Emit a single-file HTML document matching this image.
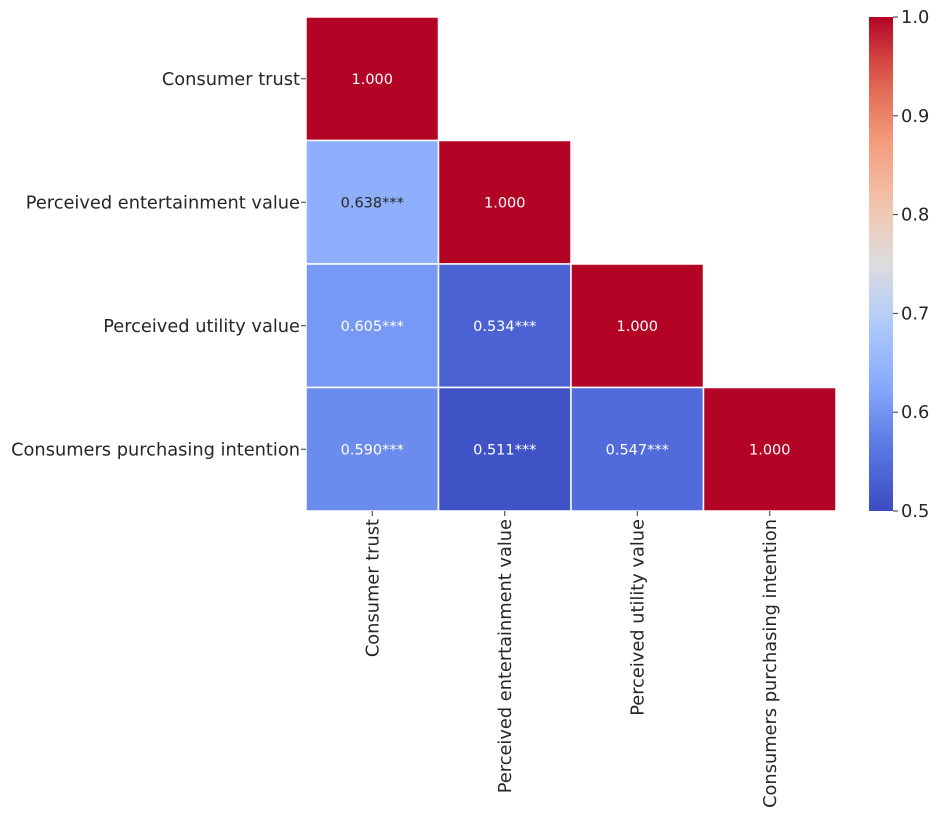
<!DOCTYPE html>
<html><head><meta charset="utf-8"><style>
body{margin:0;background:#fff;}
svg text{font-family:"DejaVu Sans","Liberation Sans",sans-serif;}
</style></head><body>
<svg id="chart" width="938" height="817" xmlns="http://www.w3.org/2000/svg">
<defs><linearGradient id="cbg" x1="0" y1="1" x2="0" y2="0"></linearGradient></defs>
<g id="cells"></g><g id="labels"></g><g id="cbar"></g>
</svg>
<script>
const categories=["Consumer trust","Perceived entertainment value","Perceived utility value","Consumers purchasing intention"];
const values=[[1.000],[0.638,1.000],[0.605,0.534,1.000],[0.590,0.511,0.547,1.000]];
const cellLabels=[["1.000"],["0.638***","1.000"],["0.605***","0.534***","1.000"],["0.590***","0.511***","0.547***","1.000"]];
const cbTicks=[0.5,0.6,0.7,0.8,0.9,1.0];
const vmin=0.5,vmax=1.0;
const X0=306,X1=836,Y0=17,Y1=511;
const cw=(X1-X0)/categories.length,ch=(Y1-Y0)/categories.length;
const xPos=i=>X0+i*cw, yPos=i=>Y0+i*ch;
const stops=[[0,[59,76,192]],[0.125,[88,118,226]],[0.25,[134,168,252]],[0.375,[174,202,253]],[0.5,[221,221,221]],[0.625,[244,195,171]],[0.75,[244,154,123]],[0.875,[222,96,77]],[1,[180,4,38]]];
function cmap(v){let t=Math.max(0,Math.min(1,(v-vmin)/(vmax-vmin)));
for(let i=0;i<stops.length-1;i++){const[a,ca]=stops[i],[b,cb]=stops[i+1];if(t<=b){const f=(t-a)/(b-a);return 'rgb('+ca.map((c,k)=>Math.round(c+(cb[k]-c)*f)).join(',')+')';}}return 'rgb(180,4,38)';}
const NS="http://www.w3.org/2000/svg";
function mk(tag,attrs,parent,txt){const e=document.createElementNS(NS,tag);for(const k in attrs)e.setAttribute(k,attrs[k]);if(txt!==undefined)e.textContent=txt;parent.appendChild(e);return e;}
const cells=document.getElementById('cells'),labels=document.getElementById('labels'),cbar=document.getElementById('cbar');
values.forEach((row,i)=>row.forEach((v,j)=>{
const r=mk('rect',{x:xPos(j),y:yPos(i),width:cw,height:ch,fill:cmap(v),stroke:'#fff','stroke-width':1.5},cells);


const t=mk('text',{x:xPos(j)+cw/2,y:yPos(i)+ch/2+5,'text-anchor':'middle','font-size':14.5,fill:(v>0.62&&v<0.85)?'#262626':'#fff'},cells,cellLabels[i][j]);


}));
categories.forEach((c,i)=>{
const cy=yPos(i)+ch/2;
mk('line',{x1:X0-5,x2:X0,y1:cy,y2:cy,stroke:'#333'},labels);
const t=mk('text',{x:X0-6,y:cy+6,'text-anchor':'end','font-size':17.8,fill:'#262626'},labels,c);


const cx=xPos(i)+cw/2;
mk('line',{x1:cx,x2:cx,y1:Y1,y2:Y1+5,stroke:'#333'},labels);
const t2=mk('text',{x:0,y:0,'text-anchor':'end','font-size':17.8,fill:'#262626',transform:`translate(${cx+6},${Y1+8}) rotate(-90)`},labels,c);


});
const CBX=869,CBW=24;
const g=document.getElementById('cbg');
for(let k=0;k<=20;k++){mk('stop',{offset:k/20,'stop-color':cmap(vmin+(vmax-vmin)*k/20)},g);}
const cb=mk('rect',{x:CBX,y:Y0,width:CBW,height:Y1-Y0,fill:'url(#cbg)'},cbar);


const cyScale=v=>Y1-(v-vmin)/(vmax-vmin)*(Y1-Y0);
cbTicks.forEach(v=>{const y=cyScale(v);
mk('line',{x1:CBX+CBW,x2:CBX+CBW+5,y1:y,y2:y,stroke:'#333'},cbar);
const t=mk('text',{x:CBX+CBW+8,y:y+6,'font-size':17.8,fill:'#262626'},cbar,v.toFixed(1));


});
</script>
</body></html>
